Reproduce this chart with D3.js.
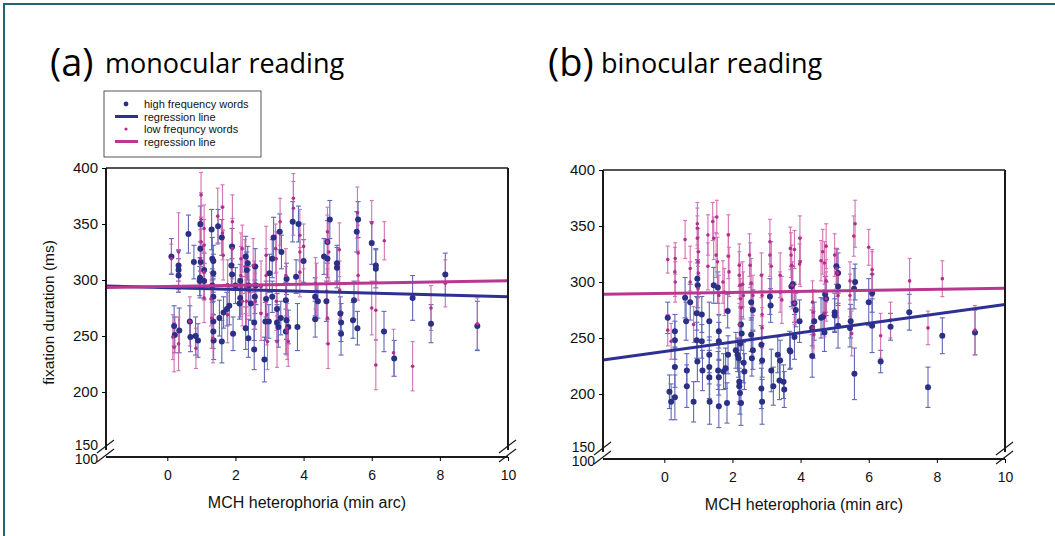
<!DOCTYPE html>
<html>
<head>
<meta charset="utf-8">
<script src="https://cdn.jsdelivr.net/npm/d3@7"></script>
<style>
  html, body { margin: 0; padding: 0; background: #fff; }
  svg { display: block; }
</style>
</head>
<body>
<script>
// each point: [MCH heterophoria (min arc), fixation duration (ms), error (ms)]
const monoHigh = [[0.12,321,16],[0.33,313,14],[0.33,309,17],[0.33,304,15],[0.2,259,18],[0.22,251,16],[0.35,255,20],[0.62,341,17],[0.78,316,15],[0.66,263,14],[0.68,249,13],[0.83,250,17],[0.9,246,15],[0.97,350,16],[0.97,328,20],[0.98,316,14],[0.96,302,18],[1.08,309,15],[1.08,299,16],[0.95,299,13],[1.3,345,18],[1.49,348,15],[1.6,338,16],[1.32,319,19],[1.35,317,14],[1.35,306,17],[1.32,295,15],[1.35,285,16],[1.35,263,18],[1.35,254,15],[1.36,246,17],[1.6,245,19],[1.53,266,16],[1.65,271,14],[1.75,274,15],[1.82,277,17],[1.9,330,16],[1.93,252,15],[1.88,313,18],[1.9,305,14],[2.0,295,16],[2.14,299,15],[2.14,284,17],[2.12,279,14],[2.3,321,18],[2.36,315,15],[2.33,309,16],[2.3,257,19],[2.38,248,17],[2.45,279,15],[2.38,295,14],[2.58,312,16],[2.6,295,17],[2.57,285,15],[2.55,238,18],[2.55,262,16],[2.85,229,20],[2.88,263,17],[2.98,263,15],[2.9,283,16],[3.08,285,14],[3.08,319,17],[3.12,338,18],[3.3,343,16],[3.35,325,15],[3.0,306,17],[3.22,274,14],[3.22,262,16],[3.26,258,18],[3.33,266,15],[3.5,264,17],[3.48,254,20],[3.48,282,16],[3.5,301,14],[3.55,258,15],[3.68,352,18],[3.85,350,16],[4.0,317,19],[3.78,303,15],[3.82,258,21],[4.34,285,17],[4.42,281,15],[4.34,265,16],[4.67,281,18],[4.6,321,16],[4.7,319,17],[4.7,334,19],[4.77,354,17],[4.98,315,16],[4.98,311,18],[5.08,270,15],[5.1,262,17],[5.1,252,19],[5.45,264,16],[5.58,257,15],[5.48,282,17],[5.56,343,18],[5.6,354,16],[6.0,333,19],[6.12,313,15],[6.12,310,17],[6.36,254,18],[6.66,230,16],[7.2,284,20],[7.74,261,17],[8.16,305,19],[9.1,259,22]];

const monoLow = [[0.12,319,13],[0.16,249,20],[0.2,240,22],[0.33,325,35],[0.33,243,24],[0.66,263,22],[0.84,239,18],[0.99,376,20],[0.99,354,24],[0.99,334,22],[0.97,319,26],[1.08,346,21],[1.08,331,23],[1.08,307,25],[1.08,284,22],[1.28,283,24],[1.3,266,27],[1.34,248,22],[1.48,357,25],[1.62,365,20],[1.62,342,24],[1.64,322,22],[1.91,352,24],[1.91,328,27],[1.77,296,22],[1.77,269,25],[2.16,319,23],[2.16,304,26],[2.18,293,24],[2.2,281,22],[2.2,328,21],[2.28,312,24],[2.3,293,23],[2.32,281,26],[2.4,290,22],[2.52,313,24],[2.55,296,21],[2.58,281,25],[2.75,294,23],[2.75,270,24],[2.9,322,26],[2.9,304,24],[2.92,269,27],[2.94,245,25],[3.18,328,22],[3.2,319,24],[3.2,281,26],[3.22,245,23],[3.31,352,21],[3.48,304,24],[3.48,290,22],[3.52,254,25],[3.7,373,22],[3.7,364,24],[3.89,340,23],[3.89,325,26],[3.89,307,22],[4.0,330,20],[3.5,257,24],[3.55,245,22],[4.35,297,23],[4.38,290,25],[4.7,343,22],[4.7,334,24],[4.74,325,26],[4.68,290,25],[4.7,266,23],[4.72,243,22],[5.05,327,24],[5.06,291,26],[5.58,360,23],[5.6,324,25],[5.6,304,22],[6.0,351,20],[6.12,273,26],[6.37,335,17],[6.12,224,22],[6.64,235,21],[6.0,275,24],[7.2,223,22],[7.74,275,20],[8.16,297,21],[9.1,261,23]];

const binoHigh = [[0.1,268,14],[0.15,202,15],[0.2,193,16],[0.31,256,15],[0.31,248,17],[0.31,224,18],[0.31,197,20],[0.61,286,18],[0.64,265,17],[0.66,221,15],[0.66,207,19],[0.76,282,16],[0.86,193,18],[0.95,272,15],[0.97,303,17],[0.98,297,20],[0.95,248,16],[0.97,229,18],[1.1,271,16],[1.1,247,15],[1.12,221,18],[1.32,265,17],[1.32,235,16],[1.32,224,15],[1.32,215,19],[1.33,193,20],[1.45,297,16],[1.57,295,14],[1.58,221,17],[1.6,215,16],[1.6,189,19],[1.6,256,15],[1.6,247,17],[1.74,220,16],[1.8,223,18],[1.86,274,15],[1.87,235,17],[1.84,192,18],[2.1,239,16],[2.15,235,15],[2.18,232,17],[2.2,211,18],[2.2,207,16],[2.22,201,19],[2.25,192,20],[2.25,262,16],[2.27,254,15],[2.23,245,17],[2.33,228,18],[2.35,220,16],[2.55,253,15],[2.6,239,17],[2.57,232,16],[2.6,275,18],[2.55,282,16],[2.85,244,17],[2.87,230,15],[2.85,205,18],[2.87,193,20],[3.1,287,16],[3.12,279,15],[3.14,221,19],[3.2,207,17],[3.33,235,16],[3.4,230,18],[3.38,212,17],[3.5,211,15],[3.52,204,16],[3.68,239,17],[3.7,238,15],[3.73,296,18],[3.77,298,16],[3.82,281,17],[3.86,275,15],[3.82,251,20],[3.97,265,19],[4.34,259,16],[4.34,234,19],[4.4,265,17],[4.6,268,18],[4.66,269,16],[4.7,255,17],[4.75,285,15],[4.72,289,16],[5.0,273,17],[5.0,270,15],[5.05,314,16],[5.1,308,18],[5.1,296,17],[5.1,261,20],[5.45,259,17],[5.47,265,15],[5.57,294,18],[5.6,300,16],[5.58,218,23],[6.0,282,21],[6.1,290,17],[6.1,261,24],[6.35,229,10],[6.64,260,12],[7.19,273,16],[7.74,206,18],[8.16,252,16],[9.12,255,20]];

const binoLow = [[0.1,320,12],[0.1,257,14],[0.2,247,16],[0.32,321,14],[0.31,309,22],[0.32,300,18],[0.61,338,17],[0.76,312,20],[0.76,300,18],[0.86,262,16],[0.97,352,19],[0.97,348,18],[0.97,339,20],[0.99,318,22],[1.0,327,21],[1.0,308,19],[0.99,294,20],[1.28,342,18],[1.28,314,21],[1.42,354,17],[1.45,339,19],[1.52,324,20],[1.54,358,15],[1.56,318,22],[1.6,288,18],[1.72,300,19],[1.76,291,21],[1.88,342,18],[1.88,323,20],[1.9,309,22],[2.2,315,19],[2.2,306,21],[2.22,297,20],[2.24,285,18],[2.26,277,22],[2.2,262,19],[2.3,298,20],[2.32,288,21],[2.5,324,19],[2.52,315,20],[2.55,299,22],[2.6,288,18],[2.85,306,20],[2.87,288,19],[2.87,271,21],[2.87,259,18],[3.1,336,20],[3.1,324,19],[3.14,314,22],[3.4,306,20],[3.4,291,18],[3.45,284,21],[3.7,330,19],[3.72,324,20],[3.74,315,18],[3.76,297,21],[3.98,339,20],[3.99,318,22],[3.82,329,17],[3.82,281,19],[3.97,316,18],[4.35,282,19],[4.37,273,20],[4.37,259,18],[4.39,253,21],[4.6,319,18],[4.65,327,20],[4.7,317,19],[4.7,272,21],[4.75,332,20],[4.75,301,19],[4.75,291,18],[4.75,285,20],[5.0,324,19],[5.05,312,18],[5.08,308,21],[5.1,288,20],[5.45,301,17],[5.45,288,19],[5.5,254,20],[5.56,341,18],[5.6,352,21],[6.0,331,16],[6.1,311,18],[6.1,307,20],[6.35,252,20],[6.64,266,16],[7.2,301,20],[7.74,259,15],[8.16,303,16],[9.12,257,22]];

// regression lines: [value at x = 0, slope per min arc]
const monoHighFit = [293.1, -0.81];
const monoLowFit = [294.2, 0.52];
const binoHighFit = [238.0, 4.2];
const binoLowFit = [289.8, 0.46];

const xTicks = [0, 2, 4, 6, 8, 10];
const yTicks = [100, 150, 200, 250, 300, 350, 400];
const legendLabels = ['high frequency words', 'regression line', 'low frequncy words', 'regression line'];

const blue = { dot: '#2b2f86', bar: '#4f58b0', line: '#2e3191' };
const pink = { dot: '#b22f8b', bar: '#cf63ad', line: '#b8378f' };

const svg = d3.select('body').append('svg')
    .attr('width', 1055)
    .attr('height', 536)
    .attr('xmlns', 'http://www.w3.org/2000/svg');

svg.append('rect')
    .attr('x', 0).attr('y', 0)
    .attr('width', 1055).attr('height', 536)
    .style('fill', '#fff');

// teal frame that runs off the right and bottom edges
svg.append('rect')
    .attr('x', 4).attr('y', 4)
    .attr('width', 1100).attr('height', 600)
    .style('fill', 'none')
    .style('stroke', '#1f6670')
    .style('stroke-width', 2);

function drawBars(g, x, y, data, col, cap) {
    const s = g.append('g')
        .style('stroke', col.bar)
        .style('stroke-width', 1.1)
        .style('opacity', 0.9);
    s.selectAll('line.bar').data(data).enter().append('line')
        .attr('class', 'bar')
        .attr('x1', d => x(d[0])).attr('x2', d => x(d[0]))
        .attr('y1', d => y(d[1] - d[2])).attr('y2', d => y(d[1] + d[2]));
    s.selectAll('line.capTop').data(data).enter().append('line')
        .attr('class', 'capTop')
        .attr('x1', d => x(d[0]) - cap).attr('x2', d => x(d[0]) + cap)
        .attr('y1', d => y(d[1] + d[2])).attr('y2', d => y(d[1] + d[2]));
    s.selectAll('line.capBot').data(data).enter().append('line')
        .attr('class', 'capBot')
        .attr('x1', d => x(d[0]) - cap).attr('x2', d => x(d[0]) + cap)
        .attr('y1', d => y(d[1] - d[2])).attr('y2', d => y(d[1] - d[2]));
}

function drawDots(g, x, y, data, col, r) {
    g.append('g').selectAll('circle').data(data).enter().append('circle')
        .attr('cx', d => x(d[0]))
        .attr('cy', d => y(d[1]))
        .attr('r', r)
        .style('fill', col.dot);
}

function drawPanel(p) {
    const g = svg.append('g');
    const x = d3.scaleLinear().domain([-1.8, 10]).range([p.left, p.right]);
    // broken axis: 100..150 squeezed into a few pixels under the break
    const y = d3.scaleLinear().domain([100, 150, 400]).range([p.bottom, p.bottom - 9, p.top]);

    drawBars(g, x, y, p.high, blue, 2.5);
    drawBars(g, x, y, p.low, pink, 2);
    drawDots(g, x, y, p.high, blue, 3);
    drawDots(g, x, y, p.low, pink, 1.8);

    // regression lines across the whole x range
    [[p.highFit, blue], [p.lowFit, pink]].forEach(([fit, col]) => {
        g.append('line')
            .attr('x1', x(-1.8)).attr('y1', y(fit[0] + fit[1] * -1.8))
            .attr('x2', x(10)).attr('y2', y(fit[0] + fit[1] * 10))
            .style('stroke', col.line)
            .style('stroke-width', 3);
    });

    // frame
    const ax = g.append('g').style('stroke', '#1a1a1a').style('fill', 'none');
    const yTop = y(400), yBrk = y(150), yBot = y(100);
    ax.append('line').attr('x1', p.left).attr('x2', p.right).attr('y1', yTop).attr('y2', yTop).style('stroke-width', 1.5);
    ax.append('line').attr('x1', p.left).attr('x2', p.left).attr('y1', yTop).attr('y2', yBrk + 2).style('stroke-width', 2);
    ax.append('line').attr('x1', p.right).attr('x2', p.right).attr('y1', yTop).attr('y2', yBrk + 2).style('stroke-width', 2);
    ax.append('line').attr('x1', p.left).attr('x2', p.right).attr('y1', yBot).attr('y2', yBot).style('stroke-width', 2);
    // break marks
    [p.left, p.right].forEach(bx => {
        [yBrk + 5, yBot + 5].forEach(by => {
            ax.append('line')
                .attr('x1', bx - 9).attr('y1', by)
                .attr('x2', bx + 8).attr('y2', by - 13)
                .style('stroke-width', 1.2);
        });
    });

    const yAxis = d3.axisLeft(y)
        .tickValues(yTicks)
        .tickSize(4)
        .tickPadding(4);
    const ya = g.append('g')
        .attr('transform', `translate(${p.left},0)`)
        .call(yAxis);
    ya.select('.domain').remove();
    ya.selectAll('.tick line').filter(d => d < 200).remove();
    ya.selectAll('text')
        .attr('font-family', 'Liberation Sans, Arial, sans-serif')
        .attr('font-size', 15)
        .attr('fill', '#111');
    // the two labels either side of the break sit very close, as in the original
    ya.selectAll('.tick text').filter(d => d === 150).attr('dy', '0.1em').attr('font-size', 14);
    ya.selectAll('.tick text').filter(d => d === 100).attr('dy', '0.45em').attr('font-size', 14);

    const xAxis = d3.axisBottom(x)
        .tickValues(xTicks)
        .tickSize(4)
        .tickPadding(9);
    const xa = g.append('g')
        .attr('transform', `translate(0,${yBot})`)
        .call(xAxis);
    xa.select('.domain').remove();
    xa.selectAll('text')
        .attr('font-family', 'Liberation Sans, Arial, sans-serif')
        .attr('font-size', 14)
        .attr('fill', '#111');

    g.append('text')
        .attr('x', (p.left + p.right) / 2)
        .attr('y', yBot + 51)
        .attr('text-anchor', 'middle')
        .attr('font-family', 'Liberation Sans, Arial, sans-serif')
        .attr('font-size', 16)
        .attr('fill', '#111')
        .text('MCH heterophoria (min arc)');

    if (p.yTitle) {
        g.append('text')
            .attr('transform', `translate(${p.left - 52},${(yTop + yBot) / 2}) rotate(-90)`)
            .attr('text-anchor', 'middle')
            .attr('font-family', 'Liberation Sans, Arial, sans-serif')
            .attr('font-size', 15.5)
            .attr('fill', '#111')
            .text(p.yTitle);
    }

    // panel heading
    g.append('text')
        .attr('x', p.tagX).attr('y', 76)
        .attr('font-family', 'Open Sans, sans-serif')
        .attr('font-size', 38)
        .attr('fill', '#000')
        .text(p.tag);
    g.append('text')
        .attr('x', p.titleX).attr('y', 73)
        .attr('font-family', 'Open Sans, sans-serif')
        .attr('font-size', 27)
        .attr('fill', '#000')
        .text(p.title);
}

drawPanel({
    left: 106, right: 508, top: 168, bottom: 457,
    high: monoHigh, low: monoLow, highFit: monoHighFit, lowFit: monoLowFit,
    yTitle: 'fixation duration (ms)',
    tag: '(a)', tagX: 50, title: 'monocular reading', titleX: 105
});

drawPanel({
    left: 603, right: 1005, top: 170, bottom: 459,
    high: binoHigh, low: binoLow, highFit: binoHighFit, lowFit: binoLowFit,
    yTitle: null,
    tag: '(b)', tagX: 548, title: 'binocular reading', titleX: 601
});

// legend, only over the left panel
const leg = svg.append('g');
leg.append('rect')
    .attr('x', 104).attr('y', 91)
    .attr('width', 157).attr('height', 66)
    .style('fill', '#fff')
    .style('stroke', '#555')
    .style('stroke-width', 1);

legendLabels.forEach((label, i) => {
    const cy = 104 + i * 12.5;
    const col = i < 2 ? blue : pink;
    if (i % 2 === 0) {
        leg.append('circle')
            .attr('cx', 126).attr('cy', cy)
            .attr('r', i === 0 ? 2.4 : 1.6)
            .style('fill', col.dot);
    } else {
        leg.append('line')
            .attr('x1', 115).attr('x2', 138)
            .attr('y1', cy).attr('y2', cy)
            .style('stroke', col.line)
            .style('stroke-width', 3);
    }
    leg.append('text')
        .attr('x', 144).attr('y', cy + 4)
        .attr('font-family', 'Liberation Sans, Arial, sans-serif')
        .attr('font-size', 11)
        .attr('fill', '#111')
        .text(label);
});
</script>
</body>
</html>
